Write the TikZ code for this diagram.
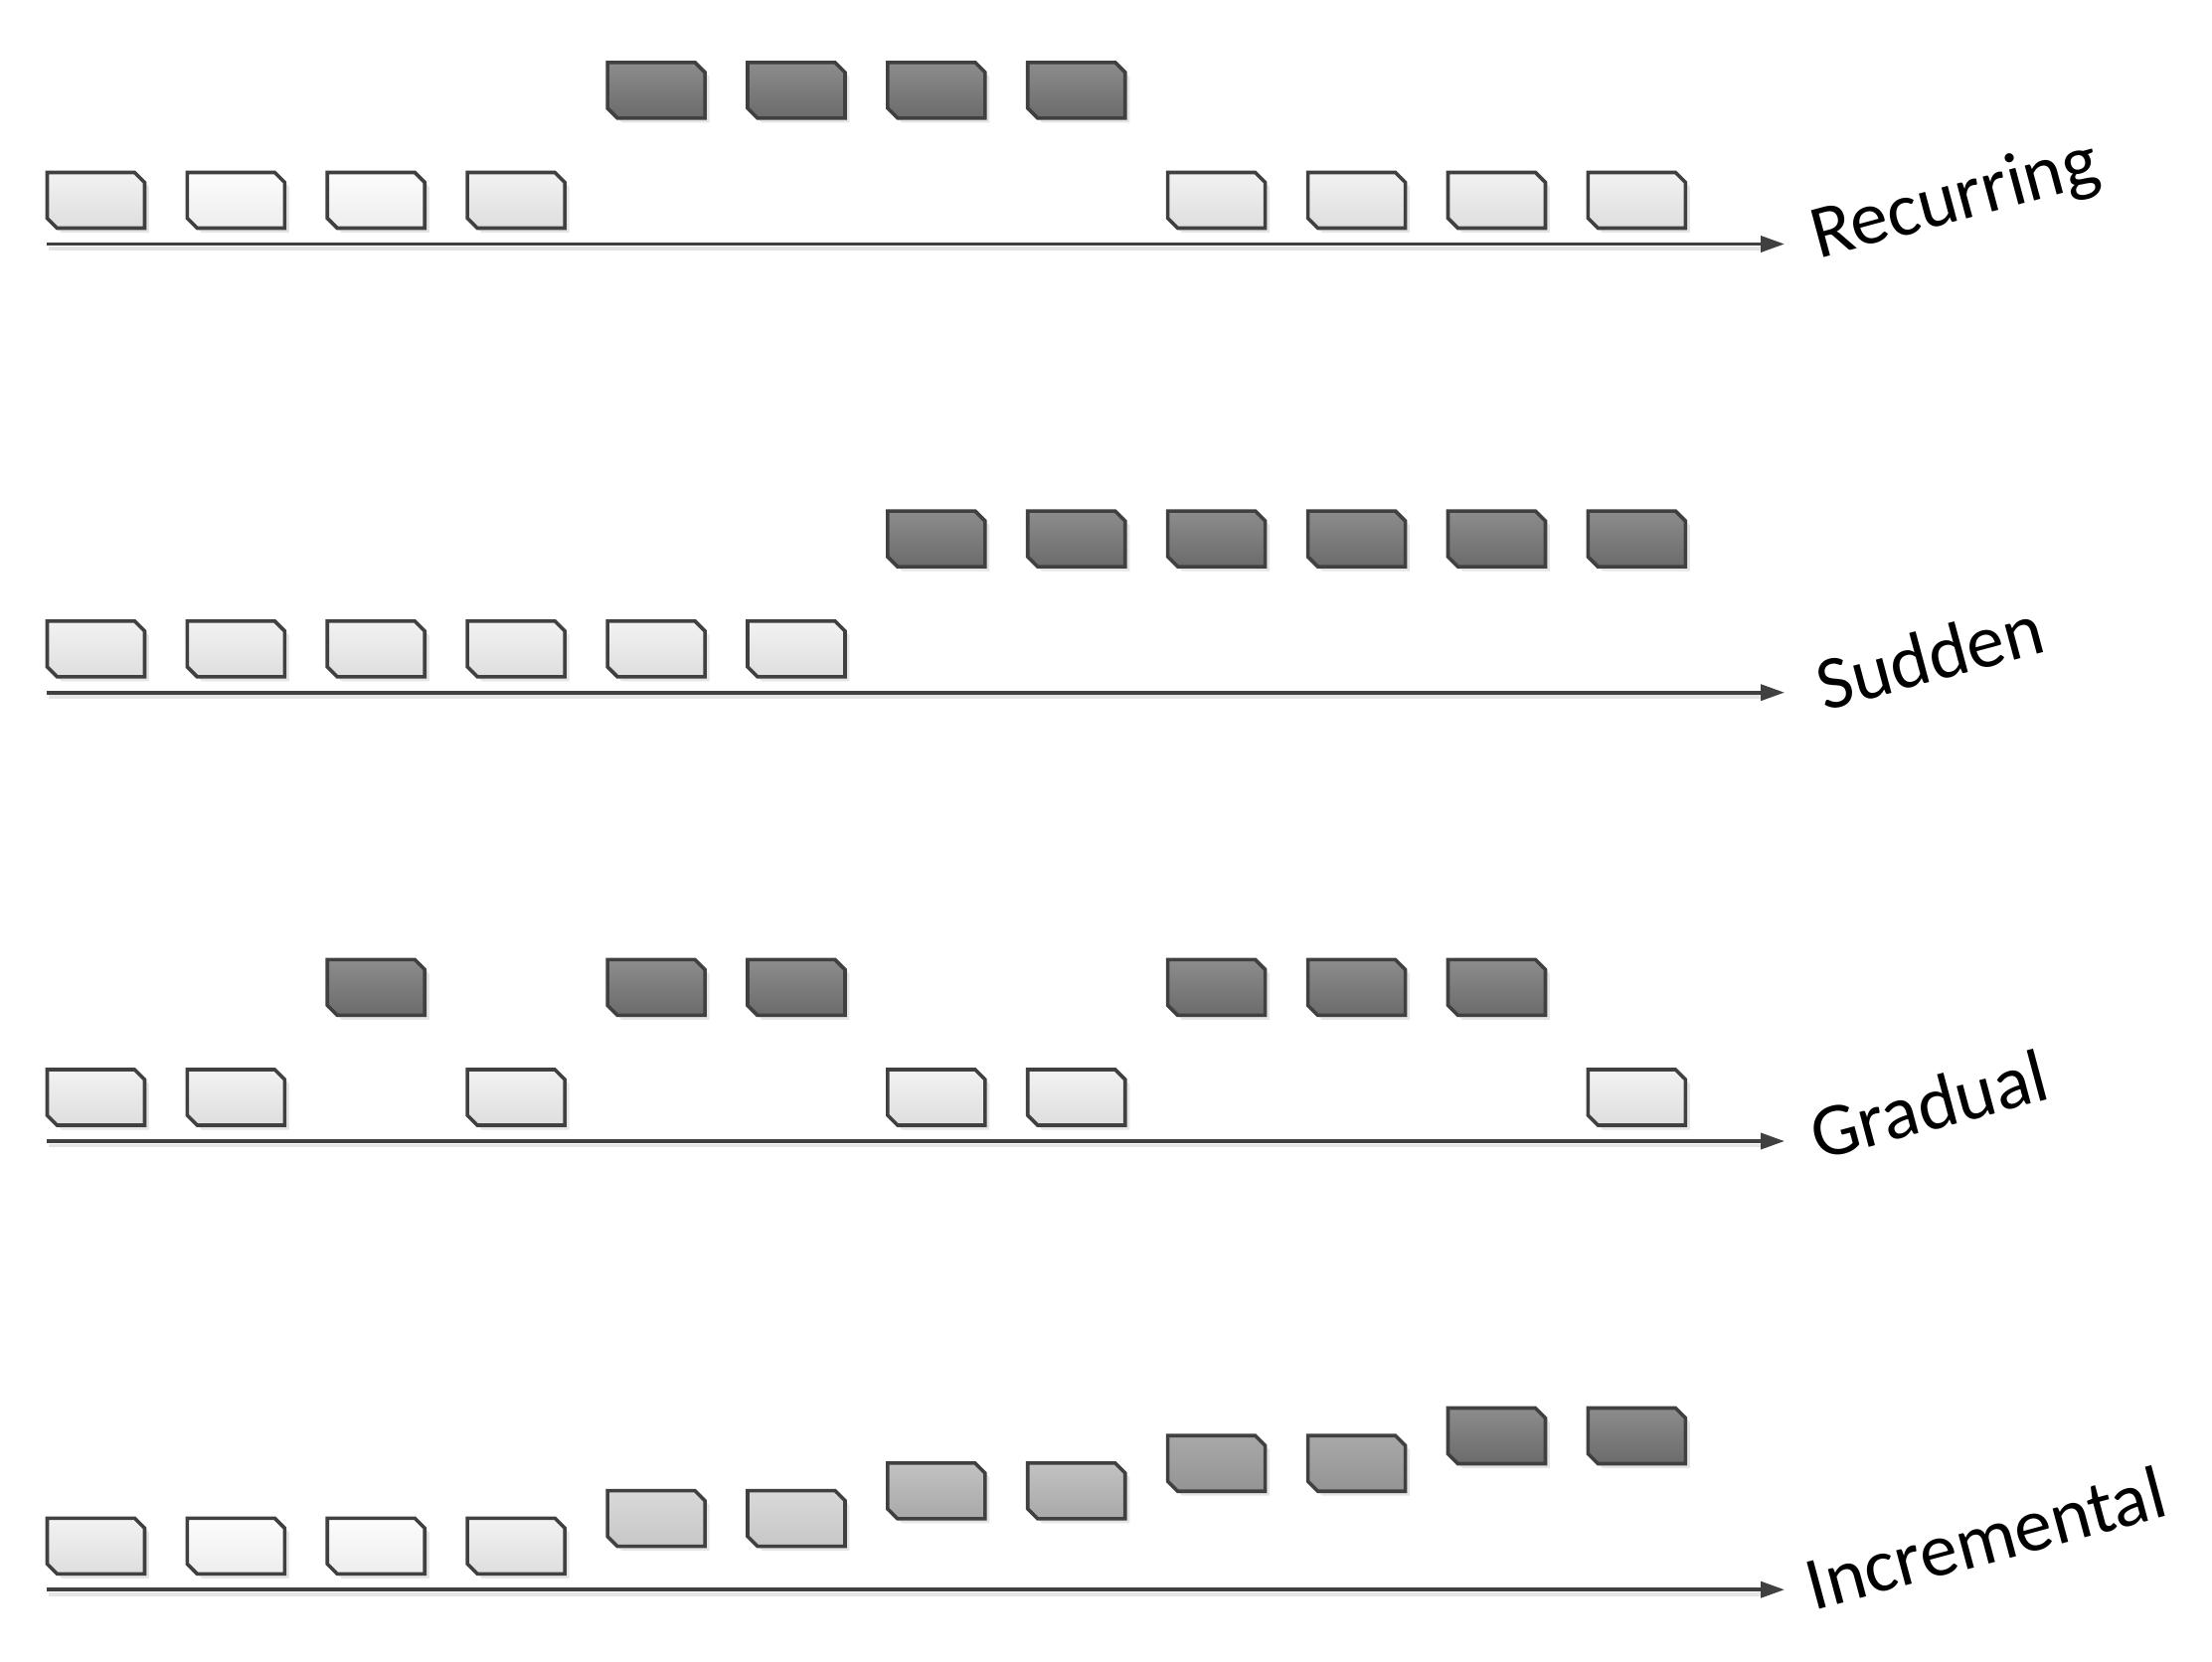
\documentclass[tikz,border=0pt]{standalone}
\usepackage{fontspec}
\setmainfont{Carlito}
\usetikzlibrary{shadows,arrows.meta}
\definecolor{edge}{HTML}{404040}
\newcommand\chbox[4]{%
  \node[boxnode] (#1) at (#2,#3) {};
  \path[#4] (#1.north west) -- ([xshift=-10pt]#1.north east) -- ([yshift=-10pt]#1.north east)
    -- (#1.south east) -- ([xshift=10pt]#1.south west) -- ([yshift=10pt]#1.south west) -- cycle;
}
\begin{document}
\begin{tikzpicture}[x=1pt,y=-1pt,
  boxnode/.style={rectangle, minimum width=98pt, minimum height=56pt, inner sep=0pt, outer sep=0pt, draw=none},
  box/.style={draw=edge, line width=3.6pt, line join=miter,
    drop shadow={shadow xshift=4.5pt, shadow yshift=-4.5pt, fill=black!10, opacity=1}},
  lightbox/.style={box, top color=white!95!black, bottom color=white!87!black},
  whitebox/.style={box, top color=white!99!black, bottom color=white!93!black},
  darkbox/.style={box, top color=black!45, bottom color=black!58},
  incA/.style={box, top color=white!85!black, bottom color=white!78!black},
  incB/.style={box, top color=white!76!black, bottom color=white!66!black},
  incC/.style={box, top color=white!66!black, bottom color=white!58!black},
  axis/.style={draw=edge, line width=3.6pt, -{Triangle[length=24pt,width=16pt]}},
  axshadow/.style={draw=black!10, line width=3.6pt},
  lab/.style={font=\fontsize{76}{90}\selectfont, text=black, inner sep=0pt, rotate=15}
]
\useasboundingbox (0,0) rectangle (2225,1671);
% ---------- Row 1: Recurring ----------
\foreach \i/\s in {0/lightbox,1/whitebox,2/whitebox,3/lightbox,8/lightbox,9/lightbox,10/lightbox,11/lightbox}
  {\chbox{r1l\i}{{96.45+140.9*\i}}{201.5}{\s}}
\foreach \i in {4,5,6,7}
  {\chbox{r1d\i}{{96.45+140.9*\i}}{90.8}{darkbox}}
\coordinate (a1s) at (46.8,245.5);
\coordinate (a1e) at (1795,245.5);
\coordinate (a1t) at (1772,250);
\coordinate (a1u) at (48.8,250);
\draw[axshadow] (a1u) -- (a1t);
\draw[axis] (a1s) -- (a1e);
\node[lab] (l1) at (1967,203) {Recurring};
% ---------- Row 2: Sudden ----------
\foreach \i in {0,...,5}
  {\chbox{r2l\i}{{96.45+140.9*\i}}{652.8}{lightbox}}
\foreach \i in {6,...,11}
  {\chbox{r2d\i}{{96.45+140.9*\i}}{542.1}{darkbox}}
\coordinate (a2s) at (46.8,696.7);
\coordinate (a2e) at (1795,696.7);
\coordinate (a2t) at (1772,701.2);
\coordinate (a2u) at (48.8,701.2);
\draw[axshadow] (a2u) -- (a2t);
\draw[axis] (a2s) -- (a2e);
\node[lab] (l2) at (1941,660) {Sudden};
% ---------- Row 3: Gradual ----------
\foreach \i in {0,1,3,6,7,11}
  {\chbox{r3l\i}{{96.45+140.9*\i}}{1104}{lightbox}}
\foreach \i in {2,4,5,8,9,10}
  {\chbox{r3d\i}{{96.45+140.9*\i}}{993.4}{darkbox}}
\coordinate (a3s) at (46.8,1148);
\coordinate (a3e) at (1795,1148);
\coordinate (a3t) at (1772,1152.5);
\coordinate (a3u) at (48.8,1152.5);
\draw[axshadow] (a3u) -- (a3t);
\draw[axis] (a3s) -- (a3e);
\node[lab] (l3) at (1940,1111) {Gradual};
% ---------- Row 4: Incremental ----------
\foreach \i/\s in {0/lightbox,1/whitebox,2/whitebox,3/lightbox}
  {\chbox{r4b\i}{{96.45+140.9*\i}}{1555.3}{\s}}
\foreach \i in {4,5}
  {\chbox{r4b\i}{{96.45+140.9*\i}}{1527.6}{incA}}
\foreach \i in {6,7}
  {\chbox{r4b\i}{{96.45+140.9*\i}}{1499.9}{incB}}
\foreach \i in {8,9}
  {\chbox{r4b\i}{{96.45+140.9*\i}}{1472.2}{incC}}
\foreach \i in {10,11}
  {\chbox{r4b\i}{{96.45+140.9*\i}}{1444.5}{darkbox}}
\coordinate (a4s) at (46.8,1599.2);
\coordinate (a4e) at (1795,1599.2);
\coordinate (a4t) at (1772,1603.7);
\coordinate (a4u) at (48.8,1603.7);
\draw[axshadow] (a4u) -- (a4t);
\draw[axis] (a4s) -- (a4e);
\node[lab] (l4) at (1997,1547) {Incremental};
\end{tikzpicture}
\end{document}
